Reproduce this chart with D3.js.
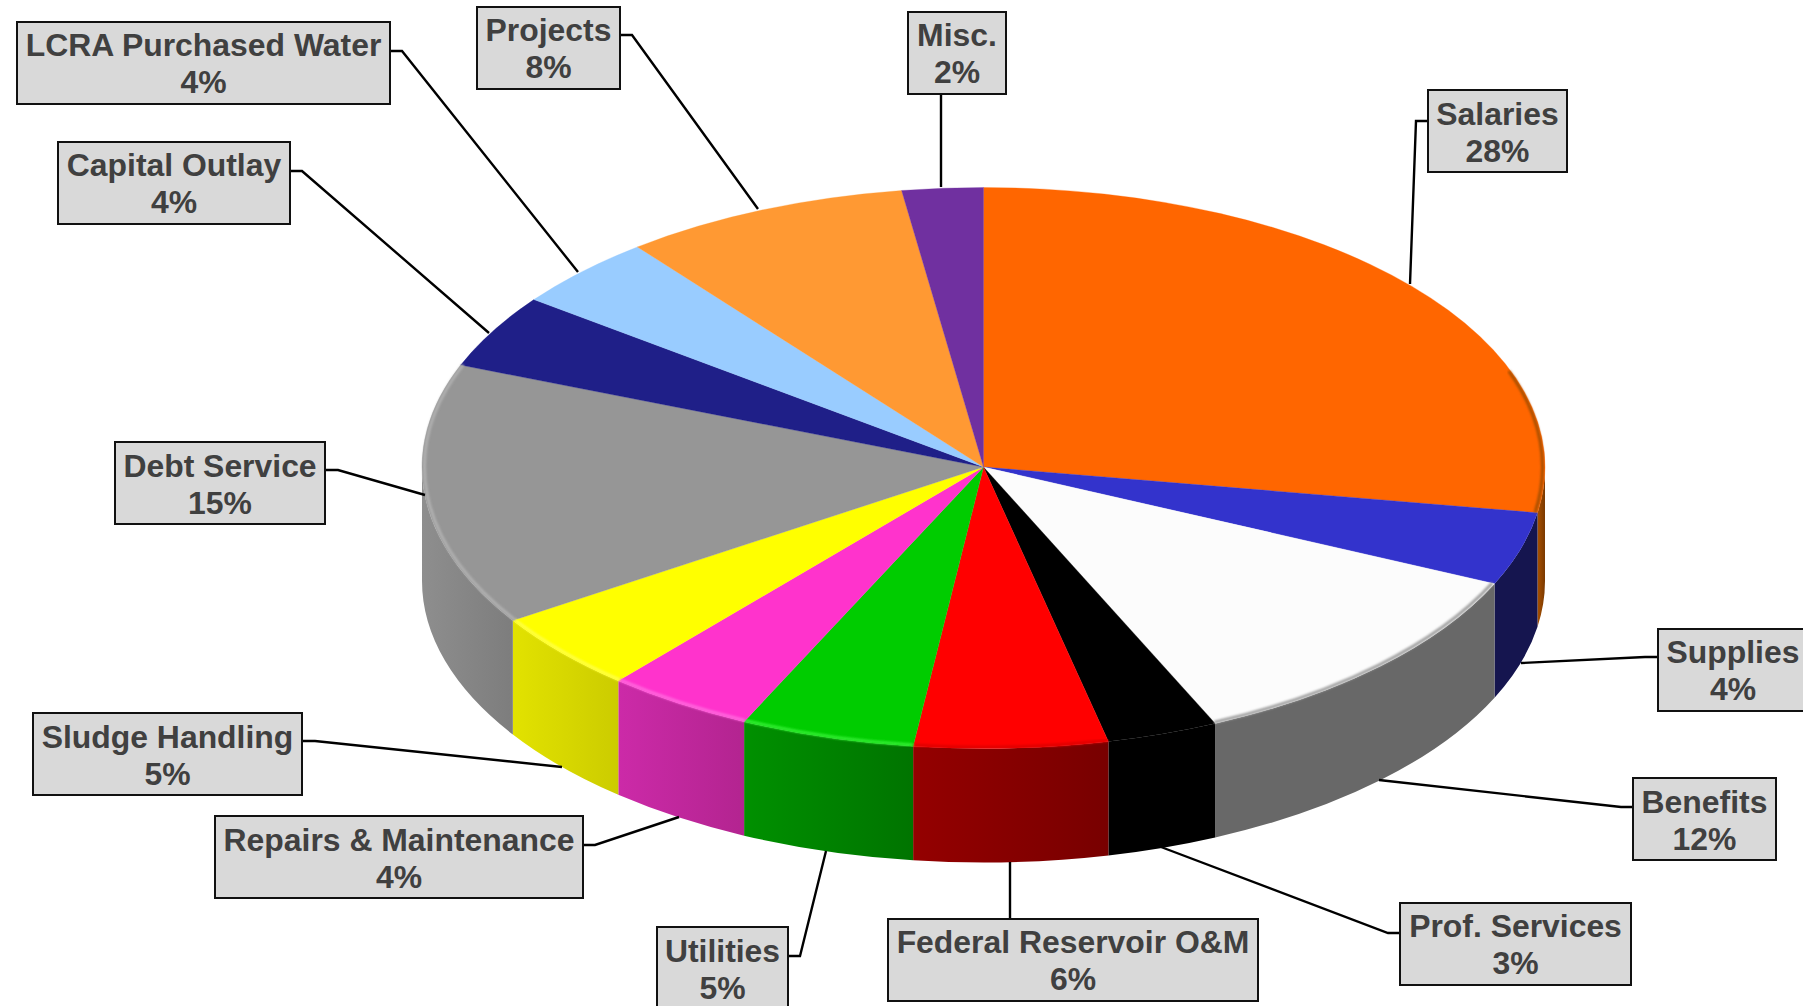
<!DOCTYPE html>
<html>
<head>
<meta charset="utf-8">
<script src="https://cdn.jsdelivr.net/npm/d3@7"></script>
<style>
  html, body { margin: 0; padding: 0; background: white; overflow: hidden; }
</style>
</head>
<body>
<div id="chart"></div>
<script>
const categories = ["Salaries", "Supplies", "Benefits", "Prof. Services", "Federal Reservoir O&M",
    "Utilities", "Repairs & Maintenance", "Sludge Handling", "Debt Service", "Capital Outlay",
    "LCRA Purchased Water", "Projects", "Misc."];

// slice sizes as measured on the picture
const shares = [27.6, 4.2, 11.43, 3.2, 5.57, 5.01, 4.26, 4.55, 15.12, 4.28, 4.21, 8.24, 2.33];

// what the labels print
const percentLabels = ["28%", "4%", "12%", "3%", "6%", "5%", "4%", "5%", "15%", "4%", "4%", "8%", "2%"];

// colours
const topColors = ["#ff6600", "#3333cc", "#fcfcfc", "#000000", "#ff0000", "#00cc00", "#ff33cc",
    "#ffff00", "#969696", "#1f1f88", "#99ccff", "#ff9933", "#7030a0"];
const sideLight = ["#a85000", "#15154f", "#686868", "#000000", "#940000", "#009000", "#cc2aa8",
    "#e2e200", "#8e8e8e", "#10104a", "#4d6a88", "#884c1a", "#3a1a55"];
const sideDark = ["#7a3900", "#15154f", "#686868", "#000000", "#780000", "#007400", "#b32490",
    "#cccc00", "#7d7d7d", "#10104a", "#4d6a88", "#884c1a", "#3a1a55"];
const rimColors = ["#a85000", null, "#a0a0a0", null, "#e00000", "#33ee33", "#ff66dd",
    "#ffff44", "#b0b0b0", null, null, null, null];

// label boxes: x0, x1, y0 per category, and leader line points
const boxes = [
    [1428, 1567, 90], [1658, 1808, 629], [1633, 1776, 778], [1400, 1631, 903], [888, 1258, 919],
    [657, 788, 927], [215, 583, 816], [33, 302, 713], [115, 325, 442], [58, 290, 142],
    [17, 390, 22], [477, 620, 7], [908, 1006, 12]
];
const textNudge = [1, 0, 1, 0, 0, 1, 1, 1, 1, 0, 0, 0, 0];
const leaders = [
    [[1428, 121], [1416, 121], [1410, 284]],
    [[1658, 657], [1645, 657], [1521, 663]],
    [[1633, 807], [1621, 807], [1379, 780]],
    [[1400, 933], [1388, 933], [1161, 847]],
    [[1010, 919], [1010, 862]],
    [[788, 956], [800, 956], [826, 851]],
    [[583, 845], [595, 845], [679, 817]],
    [[302, 741], [315, 741], [562, 767]],
    [[325, 470], [338, 470], [425, 495]],
    [[290, 171], [302, 171], [489, 333]],
    [[390, 51], [402, 51], [578, 272]],
    [[620, 35], [632, 35], [758, 209]],
    [[941, 93], [941, 187]]
];

const width = 1803;
const height = 1006;
const cx = 983.5;
const cy = 467;
const rx = 561.5;
// the far half of the disc is a little flatter than the near half
const ryFar = 279.5;
const ryNear = 281.5;
const depth = 114;
const boxHeight = 82;

const svg = d3.select("#chart")
    .append("svg")
    .attr("width", width)
    .attr("height", height)
    .style("display", "block");

const defs = svg.append("defs");

defs.append("filter")
    .attr("id", "soft")
    .attr("x", "-5%").attr("y", "-5%")
    .attr("width", "110%").attr("height", "110%")
    .append("feGaussianBlur")
    .attr("stdDeviation", 1.2);

defs.append("clipPath").attr("id", "farHalf")
    .append("rect")
    .attr("width", width).attr("height", cy);
defs.append("clipPath").attr("id", "nearHalf")
    .append("rect")
    .attr("y", cy)
    .attr("width", width).attr("height", height - cy);

const slices = d3.pie()
    .sort(null)
    .value(d => d)(shares);

slices.forEach((s, i) => {
    const grad = defs.append("linearGradient")
        .attr("id", "side" + i);
    grad.append("stop").attr("offset", "0%").attr("stop-color", sideLight[i]);
    grad.append("stop").attr("offset", "100%").attr("stop-color", sideDark[i]);
});

function rimPoint(a, r = 1) {
    return [cx + rx * r * Math.sin(a), cy - ryNear * r * Math.cos(a)];
}

function sidePath(d) {
    const a0 = Math.max(d.startAngle, Math.PI / 2);
    const a1 = Math.min(d.endAngle, Math.PI * 1.5);
    if (a1 <= a0) return null;
    const p0 = rimPoint(a0);
    const p1 = rimPoint(a1);
    return `M${p0[0]},${p0[1]}
        A${rx},${ryNear} 0 0 1 ${p1[0]},${p1[1]}
        L${p1[0]},${p1[1] + depth}
        A${rx},${ryNear} 0 0 0 ${p0[0]},${p0[1] + depth}Z`;
}

function rimPath(d) {
    const a0 = Math.max(d.startAngle, 70 * Math.PI / 180);
    const a1 = Math.min(d.endAngle, 295 * Math.PI / 180);
    if (a1 <= a0) return null;
    const r = 1 - 2.5 / rx;
    const p0 = rimPoint(a0, r);
    const p1 = rimPoint(a1, r);
    return `M${p0[0]},${p0[1]}A${rx * r},${ryNear * r} 0 0 1 ${p1[0]},${p1[1]}`;
}

// side wall
svg.append("g")
    .selectAll("path")
    .data(slices)
    .enter()
    .append("path")
    .attr("d", sidePath)
    .attr("fill", (d, i) => `url(#side${i})`);

// top face, circle arcs squashed into the ellipse, once per half
const arc = d3.arc()
    .innerRadius(0)
    .outerRadius(rx);

function drawFace(clipId, ry) {
    svg.append("g")
        .attr("clip-path", `url(#${clipId})`)
        .append("g")
        .attr("transform", `translate(${cx},${cy}) scale(1,${ry / rx})`)
        .selectAll("path")
        .data(slices)
        .enter()
        .append("path")
        .attr("d", arc)
        .attr("fill", (d, i) => topColors[i])
        .attr("stroke", (d, i) => topColors[i])
        .attr("stroke-width", 0.4);
}

drawFace("farHalf", ryFar);
drawFace("nearHalf", ryNear);

// bevel along the rim
svg.append("g")
    .selectAll("path")
    .data(slices.filter((d, i) => rimColors[i]))
    .enter()
    .append("path")
    .attr("d", rimPath)
    .attr("fill", "none")
    .attr("stroke", d => rimColors[d.index])
    .attr("stroke-width", 3)
    .attr("filter", "url(#soft)");

// leader lines
const line = d3.line();

svg.append("g")
    .selectAll("path")
    .data(leaders)
    .enter()
    .append("path")
    .attr("d", d => line(d))
    .attr("fill", "none")
    .attr("stroke", "#000")
    .attr("stroke-width", 2.4);

// label boxes
const labels = svg.append("g")
    .selectAll("g")
    .data(categories)
    .enter()
    .append("g");

labels.append("rect")
    .attr("x", (d, i) => boxes[i][0])
    .attr("y", (d, i) => boxes[i][2])
    .attr("width", (d, i) => boxes[i][1] - boxes[i][0])
    .attr("height", boxHeight)
    .attr("fill", "#d9d9d9")
    .attr("stroke", "#111")
    .attr("stroke-width", 2);

const labelFont = "'Liberation Sans', Arial, sans-serif";

labels.append("text")
    .attr("x", (d, i) => (boxes[i][0] + boxes[i][1]) / 2)
    .attr("y", (d, i) => boxes[i][2] + 34 + textNudge[i])
    .attr("text-anchor", "middle")
    .attr("font-family", labelFont)
    .attr("font-weight", "bold")
    .attr("font-size", 31.9)
    .attr("fill", "#404040")
    .text(d => d);

labels.append("text")
    .attr("x", (d, i) => (boxes[i][0] + boxes[i][1]) / 2)
    .attr("y", (d, i) => boxes[i][2] + 71 + textNudge[i])
    .attr("text-anchor", "middle")
    .attr("font-family", labelFont)
    .attr("font-weight", "bold")
    .attr("font-size", 31.9)
    .attr("fill", "#404040")
    .text((d, i) => percentLabels[i]);
</script>
</body>
</html>
